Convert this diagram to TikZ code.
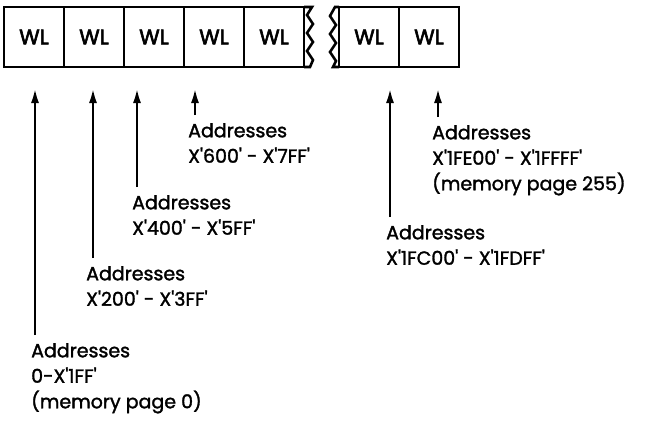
\documentclass[tikz,border=0pt]{standalone}
\usepackage{fontspec}
\setmainfont{Poppins}[Ligatures=TeXOff,FakeBold=1.6]
\newfontfamily\cellfont{Poppins}[Ligatures=TeXOff,FakeBold=2.8]
\usepackage{tikz}
\usetikzlibrary{arrows.meta,positioning}

\begin{document}
\begin{tikzpicture}[x=1pt,y=-1pt,>={Latex[length=15pt,width=8pt]},
font=\fontsize{19}{25.5}\selectfont,
cell/.style={draw,line width=2.6pt,minimum width=60pt,minimum height=60pt,inner sep=0pt,outer sep=0pt,font=\cellfont\fontsize{21}{22}\selectfont},
lbl/.style={anchor=north west,align=left,inner sep=0pt},
arr/.style={->,line width=2.6pt}]
\useasboundingbox (0,0) rectangle (645,426);
% first piece of the word row
\node[cell] (w1) at (34,37) {WL};
\node[cell,right=0pt of w1] (w2) {WL};
\node[cell,right=0pt of w2] (w3) {WL};
\node[cell,right=0pt of w3] (w4) {WL};
\node[cell,right=0pt of w4] (w5) {WL};
\draw[line width=2.6pt] (w5.north east) -- (312,7) -- (307,15) -- (313,24) -- (307,33) -- (313,42) -- (307,51) -- (313,60) -- (310,67) -- (w5.south east);
% second piece
\node[cell] (w6) at (369,37) {WL};
\node[cell,right=0pt of w6] (w7) {WL};
\draw[line width=2.6pt] (w6.north west) -- (335,7) -- (330,16) -- (336,25) -- (330,34) -- (336,43) -- (330,52) -- (336,61) -- (333,67) -- (w6.south west);
% arrow tips
\coordinate (t1) at (35,88);
\coordinate (t2) at (93,88);
\coordinate (t3) at (137,88);
\coordinate (t4) at (195,88);
\coordinate (t5) at (390,88);
\coordinate (t6) at (438,88);
% address labels
\node[lbl] (l1) at (31,343) {Addresses\\0-X'1FF'\\(memory page 0)};
\node[lbl] (l2) at (86,266) {Addresses\\X'200' - X'3FF'};
\node[lbl] (l3) at (132,195) {Addresses\\X'400' - X'5FF'};
\node[lbl] (l4) at (188,123) {Addresses\\X'600' - X'7FF'};
\node[lbl] (l5) at (386,225) {Addresses\\X'1FC00' - X'1FDFF'};
\node[lbl] (l6) at (432,125) {Addresses\\X'1FE00' - X'1FFFF'\\(memory page 255)};
\draw[arr] (l1.north -| t1) ++(0,-8) -- (t1);
\draw[arr] (l2.north -| t2) ++(0,-8) -- (t2);
\draw[arr] (l3.north -| t3) ++(0,-8) -- (t3);
\draw[arr] (l4.north -| t4) ++(0,-8) -- (t4);
\draw[arr] (l5.north -| t5) ++(0,-8) -- (t5);
\draw[arr] (l6.north -| t6) ++(0,-8) -- (t6);
\end{tikzpicture}
\end{document}
